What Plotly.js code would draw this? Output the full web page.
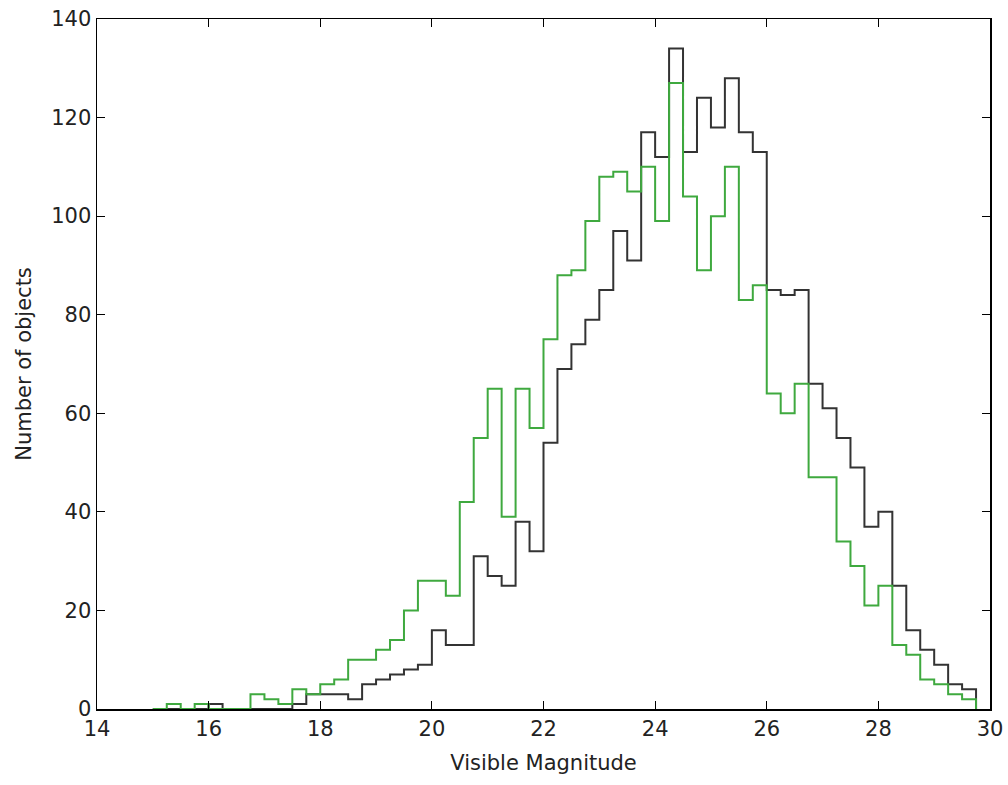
<!DOCTYPE html>
<html>
<head>
<meta charset="utf-8">
<script src="https://cdn.plot.ly/plotly-3.0.1.min.js"></script>
<style>
  html, body { margin: 0; padding: 0; background: #ffffff; }
  #chart { width: 1008px; height: 785px; }
</style>
</head>
<body>
<div id="chart"></div>
<script>
// Bin edges (magnitude), 0.25 wide
const binEdges = [
  15.00, 15.25, 15.50, 15.75, 16.00, 16.25, 16.50, 16.75, 17.00, 17.25,
  17.50, 17.75, 18.00, 18.25, 18.50, 18.75, 19.00, 19.25, 19.50, 19.75,
  20.00, 20.25, 20.50, 20.75, 21.00, 21.25, 21.50, 21.75, 22.00, 22.25,
  22.50, 22.75, 23.00, 23.25, 23.50, 23.75, 24.00, 24.25, 24.50, 24.75,
  25.00, 25.25, 25.50, 25.75, 26.00, 26.25, 26.50, 26.75, 27.00, 27.25,
  27.50, 27.75, 28.00, 28.25, 28.50, 28.75, 29.00, 29.25, 29.50, 29.75
];

// Counts per bin (black series)
const blackCounts = [
  0, 0, 0, 0, 1, 0, 0, 0, 0, 0,
  1, 3, 3, 3, 2, 5, 6, 7, 8, 9,
  16, 13, 13, 31, 27, 25, 38, 32, 54, 69,
  74, 79, 85, 97, 91, 117, 112, 134, 113, 124,
  118, 128, 117, 113, 85, 84, 85, 66, 61, 55,
  49, 37, 40, 25, 16, 12, 9, 5, 4
];

// Counts per bin (green series)
const greenCounts = [
  0, 1, 0, 1, 0, 0, 0, 3, 2, 1,
  4, 3, 5, 6, 10, 10, 12, 14, 20, 26,
  26, 23, 42, 55, 65, 39, 65, 57, 75, 88,
  89, 99, 108, 109, 105, 110, 99, 127, 104, 89,
  100, 110, 83, 86, 64, 60, 66, 47, 47, 34,
  29, 21, 25, 13, 11, 6, 5, 3, 2
];

const xTickVals = [14, 16, 18, 20, 22, 24, 26, 28, 30];
const yTickVals = [0, 20, 40, 60, 80, 100, 120, 140];

function stepTrace(counts, color) {
  // matplotlib-style 'step' outline: start at baseline, end at baseline
  const xs = [binEdges[0]].concat(binEdges);
  const ys = [0].concat(counts).concat([0]);
  return {
    type: 'scatter',
    mode: 'lines',
    x: xs,
    y: ys,
    line: { shape: 'hv', color: color, width: 2 },
    hoverinfo: 'skip',
    showlegend: false
  };
}

const traces = [
  stepTrace(blackCounts, '#333333'),
  stepTrace(greenCounts, '#3fa93f')
];

const fontFamily = '"DejaVu Sans", "Bitstream Vera Sans", sans-serif';

const layout = {
  width: 1008,
  height: 785,
  margin: { l: 97, r: 18, t: 19, b: 76, pad: 0 },
  paper_bgcolor: '#ffffff',
  plot_bgcolor: '#ffffff',
  font: { family: fontFamily, size: 21, color: '#222222' },
  showlegend: false,
  xaxis: {
    range: [14, 30],
    tickmode: 'array',
    tickvals: xTickVals,
    ticktext: xTickVals.map(String),
    ticks: 'inside',
    ticklen: 8,
    tickwidth: 1,
    tickcolor: '#000000',
    showline: true,
    linecolor: '#000000',
    linewidth: 1.5,
    mirror: 'ticks',
    showgrid: false,
    zeroline: false,
    tickfont: { family: fontFamily, size: 21, color: '#222222' },
    title: { text: 'Visible Magnitude', font: { family: fontFamily, size: 21, color: '#222222' }, standoff: 15 }
  },
  yaxis: {
    range: [0, 140],
    tickmode: 'array',
    tickvals: yTickVals,
    ticktext: yTickVals.map(String),
    ticks: 'inside',
    ticklen: 8,
    tickwidth: 1,
    tickcolor: '#000000',
    showline: true,
    linecolor: '#000000',
    linewidth: 1.5,
    mirror: 'ticks',
    showgrid: false,
    zeroline: false,
    tickfont: { family: fontFamily, size: 21, color: '#222222' },
    title: { text: 'Number of objects', font: { family: fontFamily, size: 21, color: '#222222' }, standoff: 14 }
  }
};

Plotly.newPlot('chart', traces, layout, { staticPlot: true, displayModeBar: false });
</script>
</body>
</html>
